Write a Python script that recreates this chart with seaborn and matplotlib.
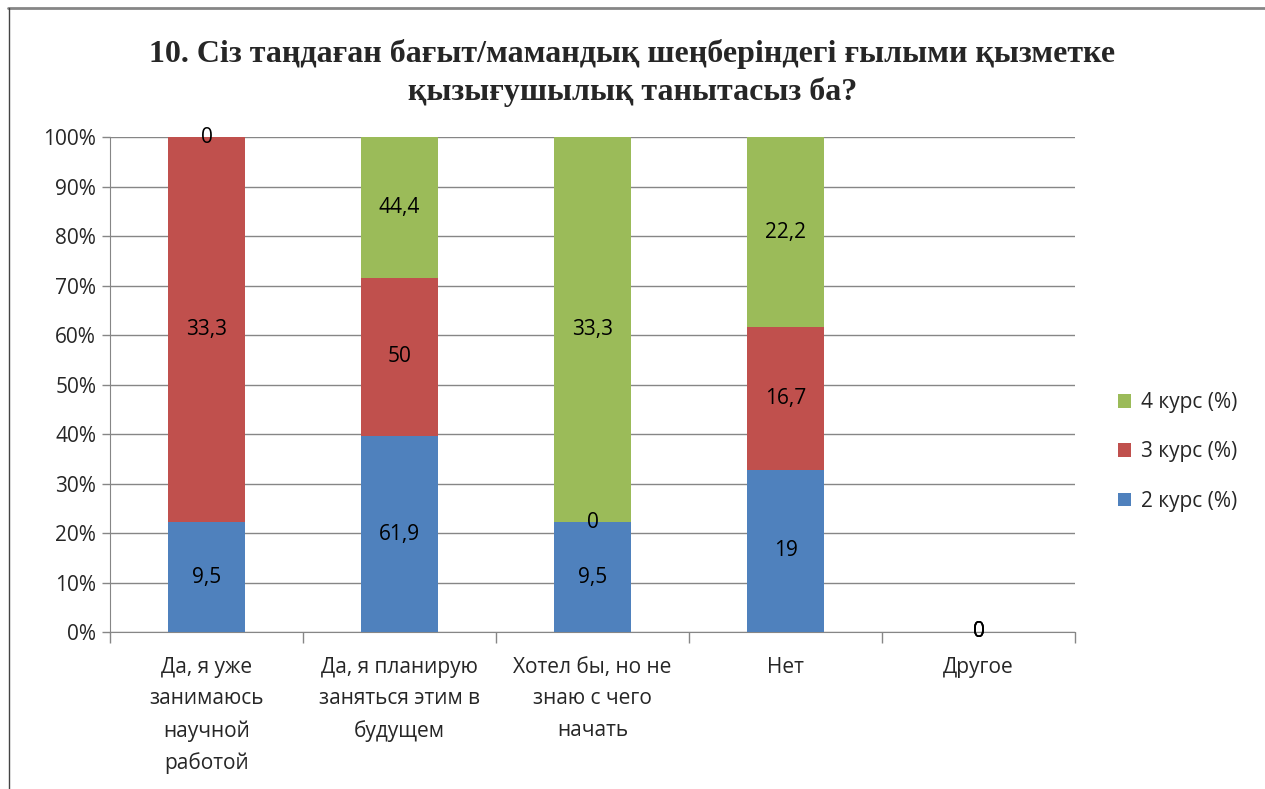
import numpy as np
import pandas as pd
import seaborn as sns
import matplotlib.pyplot as plt

categories = ["Да, я уже\nзанимаюсь\nнаучной\nработой",
              "Да, я планирую\nзаняться этим в\nбудущем",
              "Хотел бы, но не\nзнаю с чего\nначать",
              "Нет",
              "Другое"]
kurs2 = [9.5, 61.9, 9.5, 19, 0]
kurs3 = [33.3, 50, 0, 16.7, 0]
kurs4 = [0, 44.4, 33.3, 22.2, 0]
series_names = ["2 курс (%)", "3 курс (%)", "4 курс (%)"]
colors = ["#4F81BD", "#C0504D", "#9BBB59"]
title = "10. Сіз таңдаған бағыт/мамандық шеңберіндегі ғылыми қызметке\nқызығушылық танытасыз ба?"

sns.set_style("white")
plt.rcParams['font.family'] = ['Open Sans', 'DejaVu Sans']

vals = np.array([kurs2, kurs3, kurs4], dtype=float)
tot = vals.sum(axis=0)
pct = np.divide(vals, tot, out=np.zeros_like(vals), where=tot > 0) * 100
cum = np.cumsum(pct, axis=0)
bottoms = cum - pct

fig = plt.figure(figsize=(12.65, 7.89), dpi=100)
ax = fig.add_axes([0.087, 0.199, 0.763, 0.627])

# draw cumulative stacks, tallest first
for i in [2, 1, 0]:
    df = pd.DataFrame({"cat": categories, "val": cum[i]})
    sns.barplot(data=df, x="cat", y="val", color=colors[i], width=0.4,
                saturation=1, ax=ax, label=series_names[i], zorder=3, linewidth=0)

# data labels
for i in range(3):
    for j in range(len(categories)):
        y = bottoms[i, j] + pct[i, j] / 2
        txt = f"{vals[i, j]:g}".replace(".", ",")
        ax.text(j, y, txt, ha="center", va="center", fontsize=15, color="black", zorder=5)

ax.set_ylim(0, 100)
ax.set_xlim(-0.5, len(categories) - 0.5)
ax.set_yticks(np.arange(0, 101, 10))
ax.set_yticklabels([f"{v}%" for v in range(0, 101, 10)], fontsize=15)
ax.yaxis.grid(True, color="#868686", linewidth=1, zorder=0)
ax.set_axisbelow(True)
ax.set_xlabel("")
ax.set_ylabel("")
ax.set_xticks(np.arange(len(categories)))
ax.set_xticklabels(categories, fontsize=15, linespacing=1.65)
ax.tick_params(axis="x", which="major", bottom=True, length=0, pad=18)
ax.set_xticks(np.arange(-0.5, len(categories)), minor=True)
ax.tick_params(axis="x", which="minor", bottom=True, length=8, color="#868686", width=1)
ax.tick_params(axis="y", left=True, length=6, color="#868686", width=1, pad=4)
for s in ["top", "right"]:
    ax.spines[s].set_visible(False)
for s in ["left", "bottom"]:
    ax.spines[s].set_color("#868686")

handles, labels = ax.get_legend_handles_labels()
ax.legend(handles, labels, loc="center left", bbox_to_anchor=(1.025, 0.364),
          frameon=False, fontsize=15, handlelength=0.6, handleheight=0.6,
          labelspacing=1.35, handletextpad=0.5)

fig.text(0.5, 0.908, title, ha="center", va="center", fontsize=23,
         fontweight="bold", family=["Liberation Serif", "DejaVu Serif"], linespacing=1.35)

# outer chart border (top and left edges visible)
fig.add_artist(plt.Line2D([0.006, 1], [0.99, 0.99], color="#868686", linewidth=2, transform=fig.transFigure))
fig.add_artist(plt.Line2D([0.007, 0.007], [0, 0.99], color="#444444", linewidth=1, transform=fig.transFigure))

fig.savefig("out.png", dpi=100)
